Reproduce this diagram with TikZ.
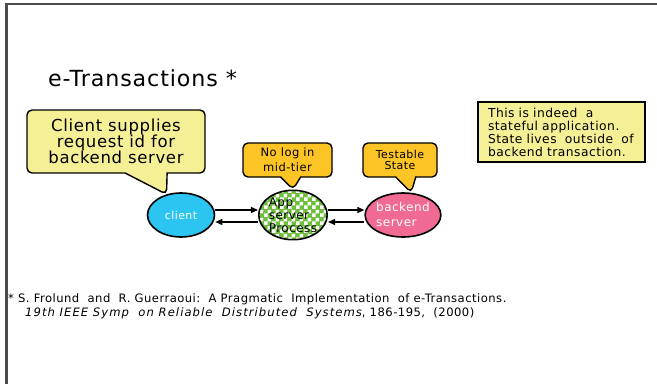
\documentclass[tikz,border=0pt]{standalone}
\usepackage{fontspec}
\setmainfont[LetterSpace=4]{DejaVu Sans}
\usetikzlibrary{shapes.geometric,shapes.callouts,patterns,arrows.meta}
\definecolor{paleyellow}{RGB}{245,239,150}
\definecolor{gold}{RGB}{252,196,36}
\definecolor{skyblue}{RGB}{44,196,240}
\definecolor{rosepink}{RGB}{240,106,146}
\definecolor{leafgreen}{RGB}{110,190,60}
\pgfdeclarepatternformonly{bigchecks}{\pgfpointorigin}{\pgfqpoint{8pt}{8pt}}{\pgfqpoint{8pt}{8pt}}%
{\pgfpathrectangle{\pgfpointorigin}{\pgfqpoint{4pt}{4pt}}%
 \pgfpathrectangle{\pgfqpoint{4pt}{4pt}}{\pgfqpoint{4pt}{4pt}}%
 \pgfusepath{fill}}
\newcommand{\fsz}[2]{\fontsize{#1}{#2}\selectfont}
\tikzset{%
  proc/.style    = {shape=ellipse, draw, line width=1.6pt,%
                    minimum width=67pt, minimum height=44pt, inner sep=0pt},%
  bubble/.style  = {rectangle callout, rounded corners=5pt, draw,%
                    line width=1.4pt, align=center, inner sep=0pt},%
  notebox/.style = {rectangle, draw, line width=1.2pt, fill=paleyellow,%
                    align=left, inner xsep=10pt, inner ysep=0pt}%
}
\begin{document}
\begin{tikzpicture}[x=1pt,y=-1pt,>={Triangle[length=7pt,width=6pt]},
	every node/.style={inner sep=0pt}]
	\useasboundingbox (0,0) rectangle (657,384);
	\draw [line width=2.5pt, black!70] (6.5,384) -- (6.5,4) -- (657,4);
	\node [anchor=base west, font=\fsz{22.2}{26}] (title) at (48,86) {e-Transactions *};
	% the three parties
	\node [proc, fill=skyblue, text=white, font=\fsz{11}{13}] (client) at (181,215) {client};
	\node [proc, preaction={fill=leafgreen}, pattern=bigchecks, pattern color=white,
		align=left, font=\fsz{12}{13}] (app) at (293,215) {App\\server\\Process};
	\node [proc, fill=rosepink, text=white, align=left, font=\fsz{12}{15}] (backend) at (403,215) {backend\\server};
	\draw [->, line width=1.3pt] ([yshift=5pt]client.east) -- ([yshift=5pt]app.west);
	\draw [->, line width=1.3pt] ([yshift=-7pt]app.west) -- ([yshift=-7pt]client.east);
	\draw [->, line width=1.3pt] ([yshift=5pt]app.east) -- ([yshift=5pt]backend.west);
	\draw [->, line width=1.3pt] ([yshift=-7pt]backend.west) -- ([yshift=-7pt]app.east);
	% callouts
	\node [bubble, fill=paleyellow, minimum width=178pt, minimum height=63pt,
		callout absolute pointer={(client.125)}, callout pointer width=42pt,
		font=\fsz{16.5}{16}] (idnote) at (116,141.5) {Client supplies\\request id for\\backend server};
	\node [bubble, fill=gold, minimum width=89pt, minimum height=34pt,
		callout absolute pointer={(app.north)}, callout pointer width=20pt,
		font=\fsz{11.5}{15}] (nolog) at (287.5,160) {No log in\\mid-tier};
	\node [bubble, fill=gold, minimum width=74pt, minimum height=34pt,
		callout absolute pointer={(backend.70)}, callout pointer width=20pt,
		font=\fsz{11}{10.5}] (testable) at (400,160) {Testable\\State};
	\node [notebox, minimum width=167pt, minimum height=60pt, text width=147pt,
		font=\fsz{12.3}{13}] (stateful) at (561.5,132)
		{This is indeed\ \ a\\stateful application.\\State lives\ \ outside\ \ of\\backend transaction.};
	% reference
	\node [anchor=base west, font=\fsz{11.6}{13}] (cite1) at (8,302)
		{* S. Frolund\ \ and\ \ R. Guerraoui:\ \ A Pragmatic\ \ Implementation\ \ of e-Transactions.};
	\node [anchor=base west, font=\fsz{11.6}{13}] (cite2) at (25,316)
		{{\itshape\addfontfeatures{LetterSpace=9}19th IEEE Symp\ \ on Reliable\ \ Distributed\ \ Systems}, 186-195,\ \ (2000)};
\end{tikzpicture}
\end{document}
